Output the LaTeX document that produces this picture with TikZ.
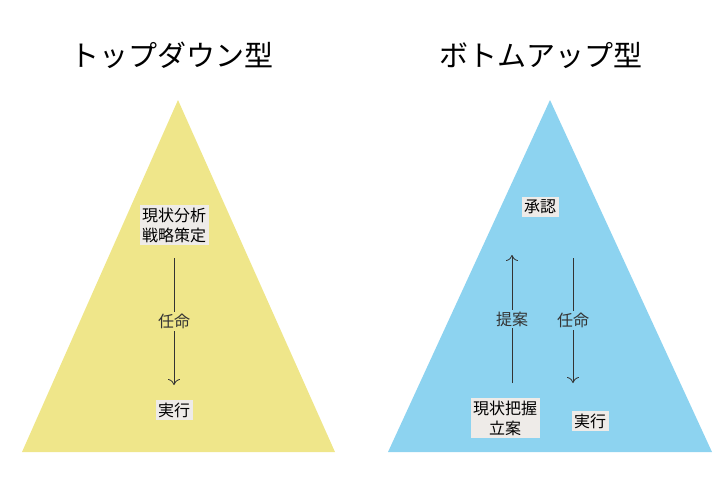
\documentclass[tikz,border=0pt]{standalone}
\usepackage{fontspec}
\setmainfont{Noto Sans CJK JP}
\usetikzlibrary{arrows.meta}
\definecolor{topyellow}{HTML}{EFE68A}
\definecolor{botblue}{HTML}{8DD3F0}
\definecolor{boxgray}{HTML}{EEEBE8}
\tikzset{
  % titles above each triangle
  heading/.style={font=\fontsize{29}{32}\selectfont},
  % gray label boxes
  stepbox/.style={fill=boxgray,inner sep=2.5pt,align=center,
    font=\fontsize{16}{20}\selectfont},
  % labels sitting on the arrows
  flowlabel/.style={inner sep=2pt,font=\fontsize{16}{20}\selectfont},
  flow/.style={-{To[length=6pt,width=12pt]},thick,black!80}}

\begin{document}
\begin{tikzpicture}[x=1pt,y=-1pt]
	\useasboundingbox (0,0) rectangle (720,480);
	% Triangles
	\fill[topyellow] (178,100) -- (335,452) -- (22,452) -- cycle;
	\fill[botblue] (550,100) -- (712,452) -- (388,452) -- cycle;
	% Titles
	\node[heading] (tdtitle) at (172,55) {トップダウン型};
	\node[heading] (butitle) at (541,55) {ボトムアップ型};
	% Top-down
	\node[stepbox] (tdplan) at (174,225) {現状分析\\戦略策定};
	\node[stepbox] (tdexec) at (174,410) {実行};
	\coordinate (tdtail) at (174,258);
	\coordinate (tdhead) at (174,385);
	\draw[flow] (tdtail) -- (tdhead)
		node[midway,flowlabel,fill=topyellow] (tdappoint) {任命};
	% Bottom-up
	\node[stepbox] (buapprove) at (540,207) {承認};
	\node[stepbox] (buplan) at (505,418) {現状把握\\立案};
	\node[stepbox] (buexec) at (590,421) {実行};
	\coordinate (proptail) at (512,383);
	\coordinate (prophead) at (512,255);
	\coordinate (apptail) at (573,258);
	\coordinate (apphead) at (573,383);
	\draw[flow] (proptail) -- (prophead)
		node[midway,flowlabel,fill=botblue] (bupropose) {提案};
	\draw[flow] (apptail) -- (apphead)
		node[midway,flowlabel,fill=botblue] (buappoint) {任命};
\end{tikzpicture}
\end{document}
